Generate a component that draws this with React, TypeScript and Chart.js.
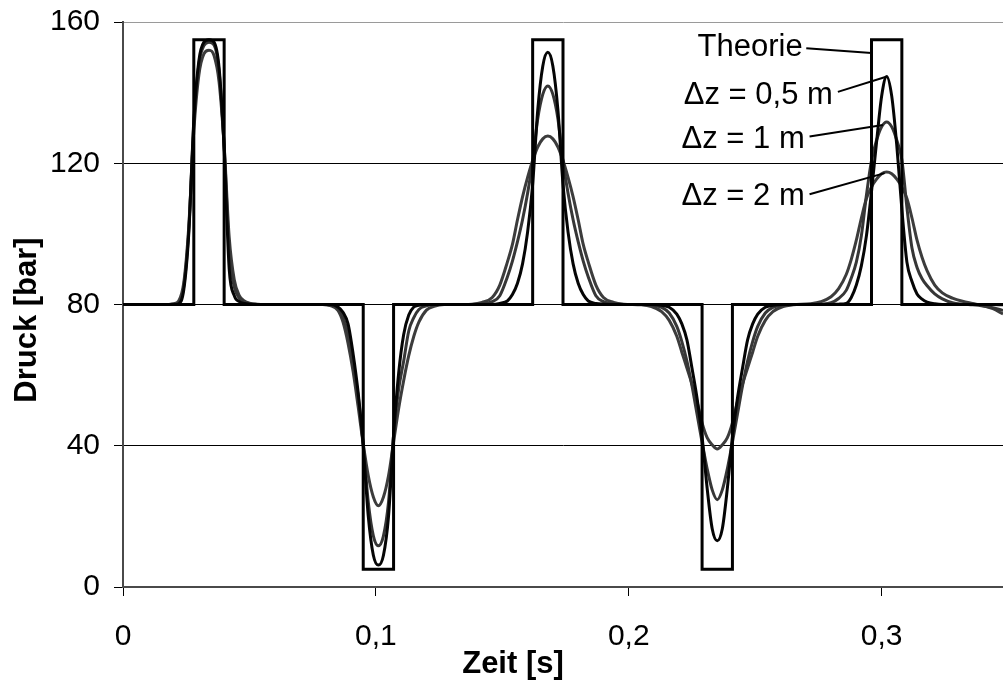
import React, { useEffect, useRef } from 'react';
import { Chart, registerables } from 'chart.js';

Chart.register(...registerables);

const FONT = '"Liberation Sans", Arial, Helvetica, sans-serif';

// Zeit [s] sample points (shared by the three computed curves)
const time = [
  0,
  0.004, 0.008, 0.012, 0.015, 0.018, 0.020, 0.022, 0.024, 0.026, 0.028, 0.030, 0.032, 0.034, 0.036, 0.038, 0.040, 0.042, 0.044, 0.046, 0.048, 0.050, 0.053, 0.056, 0.060, 0.064,
  0.071, 0.075, 0.079, 0.082, 0.085, 0.087, 0.089, 0.091, 0.093, 0.095, 0.097, 0.099, 0.101, 0.103, 0.105, 0.107, 0.109, 0.111, 0.113, 0.115, 0.117, 0.120, 0.123, 0.127, 0.131,
  0.138, 0.142, 0.146, 0.149, 0.152, 0.154, 0.156, 0.158, 0.160, 0.162, 0.164, 0.166, 0.168, 0.170, 0.172, 0.174, 0.176, 0.178, 0.180, 0.182, 0.184, 0.187, 0.190, 0.194, 0.198,
  0.205, 0.209, 0.213, 0.216, 0.219, 0.221, 0.223, 0.225, 0.227, 0.229, 0.231, 0.233, 0.235, 0.237, 0.239, 0.241, 0.243, 0.245, 0.247, 0.249, 0.251, 0.254, 0.257, 0.261, 0.265,
  0.272, 0.276, 0.280, 0.283, 0.286, 0.288, 0.290, 0.292, 0.294, 0.296, 0.298, 0.300, 0.302, 0.304, 0.306, 0.308, 0.310, 0.312, 0.314, 0.316, 0.318, 0.321, 0.324, 0.328, 0.332,
  0.336, 0.340, 0.344, 0.348,
];

// Druck [bar], Δz = 0,5 m
const dz05 = [
  80,
  80, 80, 80, 80, 80, 80, 80.2, 84, 100, 132, 149, 154.3, 155, 154.3, 147, 124, 90, 82.5, 80.8, 80.3, 80.1, 80, 80, 80, 80,
  80, 80, 80, 80, 79.3, 77.8, 74.5, 66, 55, 40, 20, 9, 6.2, 9, 20, 43, 60.5, 71.5, 77, 79.3, 79.8, 80, 80, 80, 80,
  80, 80, 80, 80.3, 81, 82.8, 86, 91.5, 100.5, 114, 135, 147.5, 151.4, 147.5, 135, 114, 100.5, 91.5, 86, 82.8, 81, 80.3, 80.1, 80, 80,
  80, 80, 79.8, 79.2, 77.3, 74.5, 70, 62, 53.5, 42.5, 28, 16.5, 13.1, 16.5, 28, 42.5, 53.5, 62, 70, 74.5, 77.3, 79.2, 79.8, 80, 80,
  80, 80, 80, 80.1, 80.3, 82, 85.5, 91, 99.5, 112, 126, 139, 144.6, 139, 125, 107, 92, 86.5, 83, 81.5, 80.7, 80.2, 80, 80, 80,
  80, 80, 80, 79.9,
];

// Druck [bar], Δz = 1 m
const dz1 = [
  80,
  80, 80, 80, 80, 80, 80.1, 80.4, 85, 101, 131, 148, 153.3, 154.3, 153.5, 146, 125, 95, 85, 81.8, 80.7, 80.2, 80, 80, 80, 80,
  80, 80, 80, 79.8, 79, 76.5, 71.5, 63, 54, 40.5, 24, 14.5, 11.7, 14.5, 24, 43, 56, 64, 72.5, 76.3, 78.6, 79.6, 80, 80, 80,
  80, 80.2, 80.8, 82.5, 87.8, 92.3, 97.8, 104, 111.5, 120.5, 132.5, 139.5, 141.9, 139.5, 132.5, 120.5, 111.5, 104, 97.8, 92.3, 87.8, 82.5, 80.8, 80.2, 80,
  80, 79.8, 79.2, 77.6, 73.8, 69.5, 64, 57, 49, 41, 33.5, 27.5, 24.7, 27.5, 33.5, 41, 49, 57, 64, 69.5, 73.8, 77.6, 79.2, 79.8, 80,
  80, 80.1, 80.5, 81.7, 84, 87.5, 92, 99.5, 111, 120.8, 126.5, 130.3, 131.7, 130.3, 126.5, 121, 107.5, 96, 90.5, 87.3, 85.3, 83, 81.6, 80.5, 80.1,
  79.9, 79.6, 79.1, 78.3,
];

// Druck [bar], Δz = 2 m
const dz2 = [
  80,
  80, 80, 80, 80, 80, 80.2, 81, 86, 102, 129, 145, 151, 152, 150.5, 143, 125, 99, 87, 82.5, 81, 80.4, 80.1, 80, 80, 80,
  80, 80, 80, 79.7, 78.3, 75, 69, 61, 51, 40.5, 31.5, 25.5, 23, 25.5, 31.5, 41, 50.5, 58.5, 65.5, 71, 75, 78.4, 79.5, 80, 80,
  80.1, 80.6, 82, 85.5, 92, 97, 104, 110.5, 116, 120.8, 124.6, 126.9, 127.7, 126.9, 124.6, 120.8, 116, 110.5, 104, 97, 92, 85.5, 82, 80.6, 80.1,
  79.9, 79.4, 78, 75.5, 71, 66.5, 62, 57.5, 52.5, 46.5, 42.3, 40.3, 39.1, 40.3, 42.3, 46.5, 52.5, 57.5, 62, 66.5, 71, 75.5, 78, 79.4, 79.9,
  80.2, 80.8, 82.2, 84.5, 88.5, 92.8, 98.2, 104.5, 110, 113.3, 115.5, 117, 117.5, 117, 115.5, 113.3, 110, 104.5, 98.2, 93.3, 89.5, 85.5, 83.3, 81.8, 80.9,
  80.3, 79.7, 78.8, 77.3,
];

// Theorie (ideal square pulses)
const theoryTime = [0, 0.028, 0.028, 0.040, 0.040, 0.095, 0.095, 0.107, 0.107, 0.162, 0.162, 0.174, 0.174, 0.229, 0.229, 0.241, 0.241, 0.296, 0.296, 0.308, 0.308, 0.348];
const theoryPressure = [80, 80, 155, 155, 80, 80, 5, 5, 80, 80, 155, 155, 80, 80, 5, 5, 80, 80, 155, 155, 80, 80];

const xTickLabels = ['0', '0,1', '0,2', '0,3'];
const yTickValues = [0, 40, 80, 120, 160];

const seriesNames = ['Theorie', 'Δz = 0,5 m', 'Δz = 1 m', 'Δz = 2 m'];
const xTitle = 'Zeit [s]';
const yTitle = 'Druck [bar]';

// Callout labels: text right end (tx, ty) and leader line from (x1,y1) to (x2,y2), in data units
const callouts = [
  { text: seriesNames[0], tx: 0.2688, ty: 152.9, x1: 0.2702, y1: 152.6, x2: 0.296, y2: 151.2 },
  { text: seriesNames[1], tx: 0.2807, ty: 139.1, x1: 0.2827, y1: 140.2, x2: 0.3018, y2: 144.5 },
  { text: seriesNames[2], tx: 0.2696, ty: 126.6, x1: 0.2715, y1: 127.6, x2: 0.3005, y2: 130.8 },
  { text: seriesNames[3], tx: 0.2696, ty: 110.7, x1: 0.2715, y1: 111.2, x2: 0.3012, y2: 117.2 },
];

const toPoints = (xs: number[], ys: number[]) => xs.map((x, i) => ({ x, y: ys[i] }));

const calloutPlugin = {
  id: 'callouts',
  afterDatasetsDraw(chart: any) {
    const { ctx, scales } = chart;
    const xs = scales.x;
    const ys = scales.y;
    ctx.save();
    ctx.font = `31px ${FONT}`;
    ctx.fillStyle = '#000';
    ctx.textAlign = 'right';
    ctx.textBaseline = 'middle';
    ctx.strokeStyle = '#000';
    ctx.lineWidth = 2;
    for (const c of callouts) {
      ctx.fillText(c.text, xs.getPixelForValue(c.tx), ys.getPixelForValue(c.ty));
      ctx.beginPath();
      ctx.moveTo(xs.getPixelForValue(c.x1), ys.getPixelForValue(c.y1));
      ctx.lineTo(xs.getPixelForValue(c.x2), ys.getPixelForValue(c.y2));
      ctx.stroke();
    }
    ctx.restore();
  },
};

const axisTitlePlugin = {
  id: 'axisTitles',
  afterDraw(chart: any) {
    const { ctx } = chart;
    ctx.save();
    ctx.font = `bold 31px ${FONT}`;
    ctx.fillStyle = '#000';
    ctx.textAlign = 'center';
    ctx.textBaseline = 'middle';
    ctx.fillText(xTitle, 513, 664);
    ctx.translate(27, 320);
    ctx.rotate(-Math.PI / 2);
    ctx.fillText(yTitle, 0, 0);
    ctx.restore();
  },
};

export default function App() {
  const canvasRef = useRef<HTMLCanvasElement | null>(null);

  useEffect(() => {
    const canvas = canvasRef.current;
    if (!canvas) return;
    const chart = new Chart(canvas, {
      type: 'line',
      data: {
        datasets: [
          {
            label: seriesNames[0],
            data: toPoints(theoryTime, theoryPressure),
            borderColor: '#000',
            borderWidth: 3,
            tension: 0,
            pointRadius: 0,
            borderJoinStyle: 'miter',
          },
          {
            label: seriesNames[1],
            data: toPoints(time, dz05),
            borderColor: '#050505',
            borderWidth: 3,
            cubicInterpolationMode: 'monotone',
            pointRadius: 0,
          },
          {
            label: seriesNames[2],
            data: toPoints(time, dz1),
            borderColor: '#363636',
            borderWidth: 3,
            cubicInterpolationMode: 'monotone',
            pointRadius: 0,
          },
          {
            label: seriesNames[3],
            data: toPoints(time, dz2),
            borderColor: '#3c3c3c',
            borderWidth: 3,
            cubicInterpolationMode: 'monotone',
            pointRadius: 0,
          },
        ],
      },
      options: {
        responsive: false,
        animation: false,
        events: [],
        layout: { padding: { top: 22, left: 0, right: 0, bottom: 0 } },
        plugins: {
          legend: { display: false },
          tooltip: { enabled: false },
          title: { display: false },
        },
        scales: {
          x: {
            type: 'linear',
            min: 0,
            max: 0.348,
            afterFit: (s: any) => {
              s.height = 95;
              s.paddingLeft = 0;
              s.paddingRight = 0;
            },
            ticks: {
              stepSize: 0.1,
              includeBounds: false,
              autoSkip: false,
              maxRotation: 0,
              padding: 23,
              color: '#000',
              font: { family: FONT, size: 30 },
              callback: (v: any) => {
                const i = Math.round(Number(v) * 10);
                return xTickLabels[i] ?? '';
              },
            },
            grid: {
              drawOnChartArea: false,
              drawTicks: true,
              tickLength: 9,
              color: '#000',
              tickColor: '#000',
              lineWidth: 1,
            },
            border: { display: true, color: '#4a4a4a', width: 2 },
            title: { display: false },
          },
          y: {
            type: 'linear',
            min: 0,
            max: 160,
            afterFit: (s: any) => {
              s.width = 123;
              s.paddingTop = 0;
              s.paddingBottom = 0;
            },
            afterBuildTicks: (s: any) => { s.ticks = yTickValues.map((v) => ({ value: v })); },
            ticks: {
              stepSize: 40,
              padding: 14,
              color: '#000',
              font: { family: FONT, size: 30 },
            },
            grid: {
              drawOnChartArea: true,
              drawTicks: true,
              tickLength: 9,
              color: (ctx: any) => (ctx.tick && ctx.tick.value === 160 ? '#9a9a9a' : '#000'),
              tickColor: '#000',
              lineWidth: 1,
            },
            border: { display: true, color: '#4a4a4a', width: 2 },
            title: { display: false },
          },
        },
      } as any,
      plugins: [calloutPlugin, axisTitlePlugin],
    });
    return () => chart.destroy();
  }, []);

  return (
    <div style={{ position: 'absolute', left: 0, top: 0, width: 1003, height: 682, background: '#fff' }}>
      <canvas ref={canvasRef} width={1003} height={682} style={{ display: 'block' }} />
    </div>
  );
}
